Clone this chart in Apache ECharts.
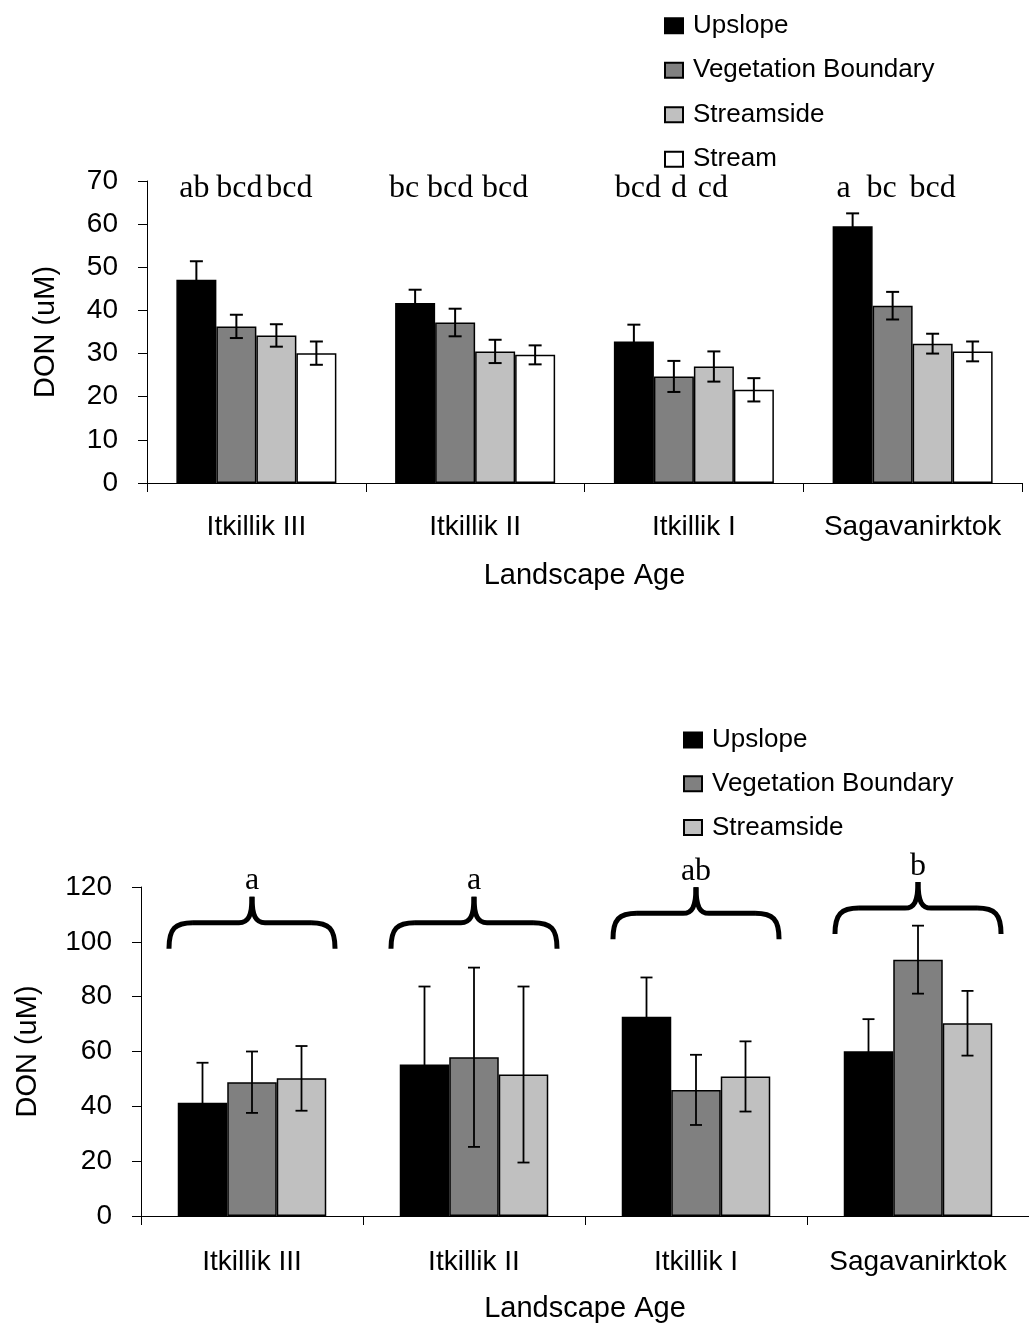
<!DOCTYPE html>
<html>
<head>
<meta charset="utf-8">
<script src="https://cdn.jsdelivr.net/npm/echarts@6/dist/echarts.min.js"></script>
<style>
  html, body { margin: 0; padding: 0; background: #fff; }
  #chart { width: 1029px; height: 1326px; }
</style>
</head>
<body>
<div id="chart"></div>
<script>
// ---------------- DATA ----------------
const categories = ['Itkillik III', 'Itkillik II', 'Itkillik I', 'Sagavanirktok'];
const seriesNames = ['Upslope', 'Vegetation Boundary', 'Streamside', 'Stream'];

// Top panel (4 positions)
const topUpslope       = [47.1, 41.7, 32.8, 59.5];
const topVeg           = [36.3, 37.2, 24.7, 41.1];
const topStreamside    = [34.2, 30.5, 27.0, 32.3];
const topStream        = [30.1, 29.7, 21.6, 30.5];
const topUpslopeErr    = [4.3, 3.1, 3.9, 3.0];
const topVegErr        = [2.7, 3.2, 3.6, 3.2];
const topStreamsideErr = [2.6, 2.7, 3.5, 2.3];
const topStreamErr     = [2.7, 2.2, 2.7, 2.3];
const topLetters = [['ab', 'bcd', 'bcd'], ['bc', 'bcd', 'bcd'], ['bcd', 'd', 'cd'], ['a', 'bc', 'bcd']];
const topLetterLevel = 68;
const topYTicks = [0, 10, 20, 30, 40, 50, 60, 70];

// Bottom panel (3 positions)
const botUpslope       = [41.3, 55.3, 72.7, 60.1];
const botVeg           = [48.8, 57.9, 46.0, 93.5];
const botStreamside    = [50.2, 51.6, 50.9, 70.3];
const botUpslopeErr    = [14.6, 28.4, 14.3, 11.7];
const botVegErr        = [11.2, 32.7, 12.8, 12.4];
const botStreamsideErr = [11.8, 32.1, 12.8, 11.8];
const botLetters = ['a', 'a', 'ab', 'b'];
const braceLevels = [107, 107, 110.4, 112.3];
const botYTicks = [0, 20, 40, 60, 80, 100, 120];

// ---------------- STYLE / LAYOUT ----------------
const colors = ['#000000', '#808080', '#c0c0c0', '#ffffff'];
const SANS = 'Liberation Sans, Arial, sans-serif';
const SERIF = 'Liberation Serif, Times New Roman, serif';
const TOP_BAR_W = 40;
const BOT_BAR_W = 49.5;
const LETTER_SIZE = 32;
// small manual horizontal nudges of the significance letters (px)
const topLetterNudge = [[-2, 3, 13], [-11, -5, 10], [4, 5, -1], [-9, -11, 0]];

const chart = echarts.init(document.getElementById('chart'), null, { renderer: 'canvas' });

function axisCommon(gridIndex) {
  return {
    gridIndex,
    axisLine: { show: true, lineStyle: { color: '#000', width: 1 } },
    axisTick: { show: true, length: 9, lineStyle: { color: '#000', width: 1 } },
    splitLine: { show: false }
  };
}

function barSeries(name, data, idx, xi, barW) {
  return {
    type: 'bar', name, data, xAxisIndex: xi, yAxisIndex: xi,
    barWidth: barW, barGap: '0%',
    itemStyle: { color: colors[idx], borderColor: '#000', borderWidth: 1.5 },
    z: 2, silent: true
  };
}

function errSeries(vals, errs, idx, n, barW, xi, capW, lw) {
  return {
    type: 'custom', xAxisIndex: xi, yAxisIndex: xi, z: 5, silent: true,
    data: vals.map((v, c) => [c, v, errs[c]]),
    encode: { x: 0, y: 1 },
    renderItem(params, api) {
      const c = api.value(0), v = api.value(1), e = api.value(2);
      const hi = api.coord([c, v + e]);
      const lo = api.coord([c, v - e]);
      const x = hi[0] + (idx - (n - 1) / 2) * barW;
      const st = { stroke: '#000', lineWidth: lw };
      return {
        type: 'group', children: [
          { type: 'line', shape: { x1: x, y1: hi[1], x2: x, y2: lo[1] }, style: st },
          { type: 'line', shape: { x1: x - capW / 2, y1: hi[1], x2: x + capW / 2, y2: hi[1] }, style: st },
          { type: 'line', shape: { x1: x - capW / 2, y1: lo[1], x2: x + capW / 2, y2: lo[1] }, style: st }
        ]
      };
    }
  };
}

const topLetterSeries = {
  type: 'custom', xAxisIndex: 0, yAxisIndex: 0, z: 6, silent: true,
  data: categories.map((c, i) => [i, topLetterLevel]),
  encode: { x: 0, y: 1 },
  renderItem(params, api) {
    const ci = params.dataIndex;
    const p = api.coord([api.value(0), api.value(1)]);
    return {
      type: 'group',
      children: topLetters[ci].map((t, k) => ({
        type: 'text',
        x: p[0] + (k - 1.5) * TOP_BAR_W + topLetterNudge[ci][k],
        y: p[1] - 1,
        style: { text: t, fontFamily: SERIF, fontSize: LETTER_SIZE, fill: '#000', align: 'center', verticalAlign: 'middle' }
      }))
    };
  }
};

const braceSeries = {
  type: 'custom', xAxisIndex: 1, yAxisIndex: 1, z: 6, silent: true,
  data: braceLevels.map((v, i) => [i, v]),
  encode: { x: 0, y: 1 },
  renderItem(params, api) {
    const ci = params.dataIndex;
    const p = api.coord([api.value(0), api.value(1)]);
    const cx = p[0], h = p[1];
    const hw = api.size([1, 0])[0] * 0.374;
    const st = { stroke: '#000', lineWidth: 5, fill: null };
    const children = [];
    [-1, 1].forEach(s => {
      children.push({ type: 'bezierCurve', shape: {
        x1: cx + s * hw, y1: h + 26, cpx1: cx + s * hw, cpy1: h + 6,
        cpx2: cx + s * (hw - 6), cpy2: h, x2: cx + s * (hw - 24), y2: h }, style: st });
      children.push({ type: 'line', shape: { x1: cx + s * (hw - 24), y1: h, x2: cx + s * 13, y2: h }, style: st });
      children.push({ type: 'bezierCurve', shape: {
        x1: cx + s * 13, y1: h, cpx1: cx + s * 4, cpy1: h,
        cpx2: cx, cpy2: h - 6, x2: cx, y2: h - 26 }, style: st });
    });
    children.push({
      type: 'text', x: cx, y: h - 42,
      style: { text: botLetters[ci], fontFamily: SERIF, fontSize: LETTER_SIZE, fill: '#000', align: 'center', verticalAlign: 'middle' }
    });
    return { type: 'group', children };
  }
};

const legendCommon = {
  orient: 'vertical', icon: 'rect', itemWidth: 18, itemHeight: 15, padding: 0,
  selectedMode: false,
  textStyle: { fontFamily: SANS, fontSize: 26, lineHeight: 26, color: '#000', padding: [0, 0, 0, 5] }
};

const option = {
  animation: false,
  backgroundColor: '#fff',
  textStyle: { fontFamily: SANS },
  legend: [
    Object.assign({}, legendCommon, { data: seriesNames, left: 664, top: 12.8, itemGap: 18.5 }),
    Object.assign({}, legendCommon, { data: seriesNames.slice(0, 3), left: 683, top: 727, itemGap: 17.8 })
  ],
  grid: [
    { left: 147, top: 181, width: 875, height: 302 },
    { left: 141, top: 887, width: 888, height: 329 }
  ],
  xAxis: [
    Object.assign(axisCommon(0), {
      type: 'category', data: categories,
      axisLabel: { margin: 30, fontSize: 28, color: '#000', fontFamily: SANS, interval: 0 },
      name: 'Landscape Age', nameLocation: 'middle', nameGap: 78,
      nameTextStyle: { fontSize: 29, color: '#000', fontFamily: SANS }
    }),
    Object.assign(axisCommon(1), {
      type: 'category', data: categories,
      axisLabel: { margin: 32, fontSize: 28, color: '#000', fontFamily: SANS, interval: 0 },
      name: 'Landscape Age', nameLocation: 'middle', nameGap: 78,
      nameTextStyle: { fontSize: 29, color: '#000', fontFamily: SANS }
    })
  ],
  yAxis: [
    Object.assign(axisCommon(0), {
      type: 'value', min: topYTicks[0], max: topYTicks[topYTicks.length - 1], interval: topYTicks[1] - topYTicks[0],
      axisLabel: { margin: 29, fontSize: 28, color: '#000', fontFamily: SANS },
      name: 'DON (uM)', nameLocation: 'middle', nameGap: 87, nameRotate: 90,
      nameTextStyle: { fontSize: 29, color: '#000', fontFamily: SANS }
    }),
    Object.assign(axisCommon(1), {
      type: 'value', min: botYTicks[0], max: botYTicks[botYTicks.length - 1], interval: botYTicks[1] - botYTicks[0],
      axisLabel: { margin: 29, fontSize: 28, color: '#000', fontFamily: SANS },
      name: 'DON (uM)', nameLocation: 'middle', nameGap: 99, nameRotate: 90,
      nameTextStyle: { fontSize: 29, color: '#000', fontFamily: SANS }
    })
  ],
  series: [
    barSeries(seriesNames[0], topUpslope, 0, 0, TOP_BAR_W),
    barSeries(seriesNames[1], topVeg, 1, 0, TOP_BAR_W),
    barSeries(seriesNames[2], topStreamside, 2, 0, TOP_BAR_W),
    barSeries(seriesNames[3], topStream, 3, 0, TOP_BAR_W),
    barSeries(seriesNames[0], botUpslope, 0, 1, BOT_BAR_W),
    barSeries(seriesNames[1], botVeg, 1, 1, BOT_BAR_W),
    barSeries(seriesNames[2], botStreamside, 2, 1, BOT_BAR_W),
    errSeries(topUpslope, topUpslopeErr, 0, 4, TOP_BAR_W, 0, 13, 2),
    errSeries(topVeg, topVegErr, 1, 4, TOP_BAR_W, 0, 13, 2),
    errSeries(topStreamside, topStreamsideErr, 2, 4, TOP_BAR_W, 0, 13, 2),
    errSeries(topStream, topStreamErr, 3, 4, TOP_BAR_W, 0, 13, 2),
    errSeries(botUpslope, botUpslopeErr, 0, 3, BOT_BAR_W, 1, 12, 1.8),
    errSeries(botVeg, botVegErr, 1, 3, BOT_BAR_W, 1, 12, 1.8),
    errSeries(botStreamside, botStreamsideErr, 2, 3, BOT_BAR_W, 1, 12, 1.8),
    topLetterSeries,
    braceSeries
  ]
};
chart.setOption(option);
</script>
</body>
</html>
